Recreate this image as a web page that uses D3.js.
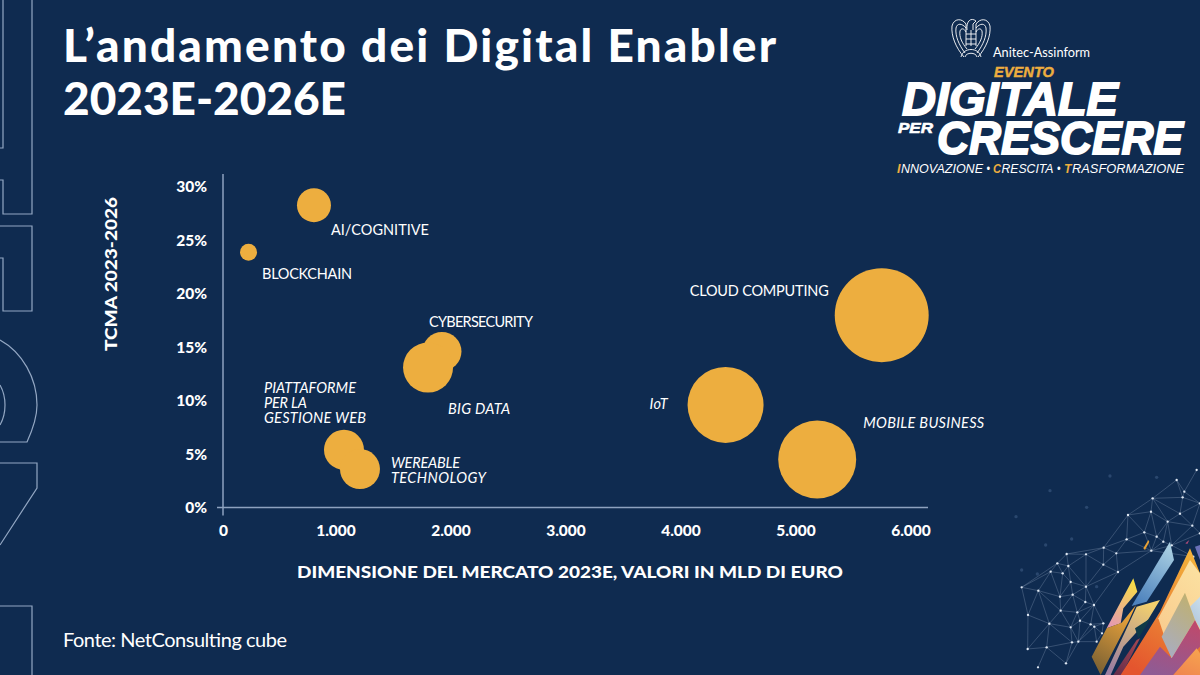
<!DOCTYPE html>
<html>
<head>
<meta charset="utf-8">
<script src="https://cdn.jsdelivr.net/npm/d3@7"></script>
<style>
  html, body { margin: 0; padding: 0; background: #0f2b50; }
  svg { display: block; }
  text { fill: #fff; font-family: Lato, sans-serif; }
</style>
</head>
<body>
<script>
const WIDTH = 1200;
const HEIGHT = 675;
const ORANGE = '#edae3f';
const AXIS_COLOR = '#8ea2bf';

// chart data
const names = ['AI/COGNITIVE', 'BLOCKCHAIN', 'CLOUD COMPUTING', 'CYBERSECURITY', 'BIG DATA', 'IoT', 'MOBILE BUSINESS', 'PIATTAFORME PER LA GESTIONE WEB', 'WEREABLE TECHNOLOGY'];
const marketSize = [791, 222, 5728, 1904, 1783, 4370, 5167, 1052, 1191];
const growth = [28.3, 23.9, 18.0, 14.6, 13.1, 9.6, 4.5, 5.4, 3.6];
const bubbleSize = [749, 187, 5720, 986, 1621, 3745, 3944, 1037, 1037];
const xTicks = [0, 1000, 2000, 3000, 4000, 5000, 6000];
const yTicks = [0, 5, 10, 15, 20, 25, 30];

// label placement relative to the bubble, one entry per line
const labelLayout = [
  { dx: 17, dy: 30, italic: false, lines: [['AI/COGNITIVE', 98]] },
  { dx: 13.5, dy: 27, italic: false, lines: [['BLOCKCHAIN', 90]] },
  { dx: -192, dy: -19, italic: false, lines: [['CLOUD COMPUTING', 139]] },
  { dx: -13, dy: -25, italic: false, lines: [['CYBERSECURITY', 104]] },
  { dx: 20, dy: 46, italic: true, lines: [['BIG DATA', 62]] },
  { dx: -76, dy: 4, italic: true, lines: [['IoT', 18]] },
  { dx: 46, dy: -31, italic: true, lines: [['MOBILE BUSINESS', 121]] },
  { dx: -80, dy: -57, italic: true, lines: [['PIATTAFORME', 92], ['PER LA', 43], ['GESTIONE WEB', 102]] },
  { dx: 31, dy: -1, italic: true, lines: [['WEREABLE', 69], ['TECHNOLOGY', 95]] },
];

const x = d3.scaleLinear([0, 6000], [223, 913]);
const y = d3.scaleLinear([0, 30], [507.5, 187]);
const r = d3.scaleSqrt([0, 6000], [0, 48.1]);
const locale = d3.formatLocale({ decimal: ',', thousands: '.', grouping: [3], currency: ['€', ''] });

const svg = d3.select('body').append('svg')
  .attr('width', WIDTH)
  .attr('height', HEIGHT)
  .attr('viewBox', [0, 0, WIDTH, HEIGHT]);

svg.append('rect').attr('width', WIDTH).attr('height', HEIGHT).attr('fill', '#0f2b50');

const defs = svg.append('defs');

drawBackdrop();
drawTitles();
drawAxes();
drawBubbles();
drawLogo();

// text with a forced width, the original face is not installed
function label(parent, str, px, py, size, width, opts = {}) {
  const t = parent.append('text')
    .attr('x', px)
    .attr('y', py)
    .attr('font-size', size)
    .attr('font-weight', opts.weight || 400)
    .attr('font-style', opts.italic ? 'italic' : 'normal')
    .text(str);
  if (opts.family) t.style('font-family', opts.family);
  if (opts.fill) t.style('fill', opts.fill);
  if (width) t.attr('textLength', width).attr('lengthAdjust', opts.adjust || 'spacingAndGlyphs');
  return t;
}

function drawTitles() {
  label(svg, 'L’andamento dei Digital Enabler', 63, 62, 46, 713, { weight: 900, adjust: 'spacing' });
  label(svg, '2023E-2026E', 63, 115, 46, 283, { weight: 900, adjust: 'spacing' });
  label(svg, 'DIMENSIONE DEL MERCATO 2023E, VALORI IN MLD DI EURO', 297, 578, 16, 546, { weight: 900 });
  label(svg, 'TCMA 2023-2026', 0, 0, 16, 154, { weight: 900 })
    .attr('transform', 'translate(117,351) rotate(-90)');
  label(svg, 'Fonte: NetConsulting cube', 63, 647, 20, 224, { adjust: 'spacing' });
}

function drawAxes() {
  const xAxis = d3.axisBottom(x)
    .tickValues(xTicks)
    .tickSize(0)
    .tickPadding(0)
    .tickFormat(locale.format(',d'));
  const yAxis = d3.axisLeft(y)
    .tickValues(yTicks)
    .tickSize(0)
    .tickPadding(16)
    .tickFormat(d => d + '%');

  const gx = svg.append('g').attr('transform', `translate(0,${y(0) + 28.5})`).call(xAxis);
  const gy = svg.append('g').attr('transform', `translate(${x(0)},0)`).call(yAxis);
  gx.select('.domain').remove();
  gy.select('.domain').remove();
  // the printed labels sit a little left of their tick, except the zero
  gx.selectAll('text')
    .attr('dy', 0)
    .attr('dx', d => d === 0 ? 0 : -2.5)
    .style('font-size', '15.5px').style('font-weight', 900).style('font-family', 'Lato, sans-serif');
  gy.selectAll('text').style('font-size', '15.5px').style('font-weight', 900).style('font-family', 'Lato, sans-serif');

  svg.append('line')
    .attr('x1', x(0) - 6).attr('x2', x(6000) + 15)
    .attr('y1', y(0)).attr('y2', y(0))
    .attr('stroke', AXIS_COLOR).attr('stroke-width', 1.5);
  svg.append('line')
    .attr('x1', x(0)).attr('x2', x(0))
    .attr('y1', y(30) - 13).attr('y2', y(0) + 8)
    .attr('stroke', AXIS_COLOR).attr('stroke-width', 1.5);
}

function drawBubbles() {
  const data = names.map((name, i) => ({
    name,
    market: marketSize[i],
    growth: growth[i],
    size: bubbleSize[i],
    layout: labelLayout[i],
  }));

  svg.append('g').selectAll('circle')
    .data(data)
    .join('circle')
    .attr('cx', d => x(d.market))
    .attr('cy', d => y(d.growth))
    .attr('r', d => r(d.size))
    .attr('fill', ORANGE);

  const g = svg.append('g');
  data.forEach(d => {
    d.layout.lines.forEach(([line, width], i) => {
      label(g, line, x(d.market) + d.layout.dx, y(d.growth) + d.layout.dy + i * 15, 14.5, width, { italic: d.layout.italic, adjust: 'spacing' });
    });
  });
}

function drawBackdrop() {
  // outlined giant letters cut by the left edge
  const outlines = [
    'M3,-2V148H0',
    'M32,-2V214H3V180H0',
    'M0,226H32V311H3V258H0',
    'M0,340C22,352 37,378 37,405C37,418 32,431 27,442H0',
    'M0,385C4,392 5,398 5,405C5,412 4,418 0,425',
    'M0,463H37V488L0,545',
    'M0,606H32V677',
  ];
  svg.append('g').selectAll('path')
    .data(outlines)
    .join('path')
    .attr('d', d => d)
    .attr('fill', 'none')
    .attr('stroke', '#93a7c3')
    .attr('stroke-width', 1.2);

  // plexus network, corner crop coordinates at 3x
  const nodes = [[65, 352], [115, 362], [152, 305], [172, 280], [200, 252], [205, 288], [188, 310], [212, 336], [258, 350], [218, 374], [180, 380], [256, 396], [282, 405], [84, 435], [182, 422], [232, 427], [148, 461], [212, 472], [240, 452], [272, 463], [283, 470], [310, 460], [306, 490], [216, 517], [235, 515], [290, 515], [83, 537], [140, 532], [198, 580], [114, 592], [258, 253], [311, 233], [349, 250], [310, 284], [354, 306], [380, 208], [384, 135], [433, 187], [458, 85], [453, 125], [530, 30], [553, 65], [548, 82], [540, 131], [577, 167], [503, 155], [454, 242], [515, 226], [470, 200], [490, 215], [580, 260], [600, 190], [590, 0], [600, 100]];
  const specks = [[48, 140], [150, 62], [260, 112], [330, 18], [470, 22], [215, 207], [137, 225], [65, 300], [112, 312], [290, 350]];
  const net = svg.append('g').attr('transform', 'translate(1000,470) scale(0.3333)');
  const delaunay = d3.Delaunay.from(nodes);
  const { halfedges, triangles } = delaunay;
  const links = [];
  for (let i = 0; i < halfedges.length; i++) {
    if (i < halfedges[i]) {
      const a = nodes[triangles[i]];
      const b = nodes[triangles[i % 3 === 2 ? i - 2 : i + 1]];
      if (Math.hypot(a[0] - b[0], a[1] - b[1]) < 135) links.push([a, b]);
    }
  }
  net.selectAll('line')
    .data(links)
    .join('line')
    .attr('x1', d => d[0][0]).attr('y1', d => d[0][1])
    .attr('x2', d => d[1][0]).attr('y2', d => d[1][1])
    .attr('stroke', '#b4c4da')
    .attr('stroke-opacity', 0.42)
    .attr('stroke-width', 1.8);
  net.selectAll('circle.node')
    .data(nodes)
    .join('circle')
    .attr('class', 'node')
    .attr('cx', d => d[0]).attr('cy', d => d[1])
    .attr('r', 3.5)
    .attr('fill', '#dfe8f3');
  net.selectAll('circle.speck')
    .data(specks)
    .join('circle')
    .attr('class', 'speck')
    .attr('cx', d => d[0]).attr('cy', d => d[1])
    .attr('r', 5)
    .attr('fill', '#3c5a82')
    .attr('fill-opacity', 0.6);

  // coloured shards, corner crop coordinates at 3x
  const shards = [
    { pts: '160,115 172,155 130,205 122,250 80,265 120,190', from: '#f7dc45', to: '#e59ab0' },
    { pts: '35,350 80,265 125,248 168,195 145,245 62,405', from: '#f2a83c', to: '#7d6233' },
    { pts: '270,5 282,60 200,185 155,198', from: '#a9cfe2', to: '#4d82bd' },
    { pts: '170,200 240,180 205,238 130,320 92,405 75,405', from: '#f3d06d', to: '#9c7fa0' },
    { pts: '165,265 212,235 175,295', from: '#0f3a48', to: '#0f3a48' },
    { pts: '100,405 170,300 180,295 125,405', from: '#a04550', to: '#6a2f4c' },
    { pts: '330,25 360,100 360,405 122,405 240,215', from: '#f2b03a', to: '#e4552e' },
    { pts: '330,60 360,100 360,280 275,355 235,235', from: '#fbe0a0', to: '#f9c98c' },
    { pts: '360,170 360,265 345,240 330,200', from: '#c7dcea', to: '#b0c4dc' },
    { pts: '315,158 345,240 275,355 245,290', from: '#bfb072', to: '#a9adc0' },
    { pts: '345,240 360,270 360,320 280,405 180,405 240,320 275,355', from: '#bd4a6d', to: '#8f5b94' },
    { pts: '350,325 360,340 360,405 280,405', from: '#f6a24f', to: '#f0874f' },
    { pts: '345,20 360,15 360,60', from: '#6a70b8', to: '#6a70b8' },
    { pts: '205,0 208,5 195,30 190,25', from: '#e8a135', to: '#e8a135' },
    { pts: '316,10 328,0 322,12', from: '#b04a78', to: '#b04a78' },
  ];
  const shardG = svg.append('g').attr('transform', 'translate(1080,540) scale(0.3333)');
  shards.forEach((s, i) => {
    const grad = defs.append('linearGradient')
      .attr('id', `shard${i}`)
      .attr('x1', 0.7).attr('y1', 0).attr('x2', 0.3).attr('y2', 1);
    grad.append('stop').attr('offset', 0).attr('stop-color', s.from);
    grad.append('stop').attr('offset', 1).attr('stop-color', s.to);
    shardG.append('polygon').attr('points', s.pts).attr('fill', `url(#shard${i})`);
  });
}

function drawLogo() {
  const logo = svg.append('g');
  const mark = logo.append('g')
    .attr('fill', 'none')
    .attr('stroke', '#fff')
    .attr('stroke-width', 0.9);
  // eagle wings, mirrored around the body
  [1, -1].forEach(side => {
    const wing = mark.append('g').attr('transform', `translate(971,0) scale(${side},1)`);
    wing.append('path').attr('d', 'M5,24C9,18 17,18 19,26C20,36 15,48 7,57');
    wing.append('path').attr('d', 'M5,28C9,23 14,23 15,28C16,36 12,45 6,53');
    wing.append('path').attr('d', 'M5,32C7,28 10,28 11,31C12,37 9,43 4,49');
    wing.append('line').attr('x1', 5).attr('x2', 5).attr('y1', 24).attr('y2', 46);
  });
  mark.append('path').attr('d', 'M967,30C966,21 971,17 976,21L973,24V30');
  mark.append('path').attr('d', 'M961,57C963,47 979,47 981,57M965,57C966,52 976,52 977,57');
  mark.append('path').attr('d', 'M966,34H976M966,39H976M966,44H976M971,30V46');

  label(logo, 'Anitec-Assinform', 993, 57, 13, 97, {});
  label(logo, 'EVENTO', 994, 77, 14, 60, { weight: 900, italic: true, fill: ORANGE, family: 'Liberation Sans, sans-serif' })
    .style('stroke', ORANGE).style('stroke-width', 0.4);

  const heavy = (str, px, py, size, width) => label(logo, str, px, py, size, width, { weight: 700, italic: true, family: 'Liberation Sans, sans-serif' })
    .style('stroke', '#fff').style('stroke-width', size / 26);
  heavy('DIGITALE', 902, 115, 46, 216);
  heavy('PER', 898, 133, 15, 35);
  heavy('CRESCERE', 937, 154, 47, 246);

  // tagline pieces set one by one so the initials can be coloured
  const tagline = [
    ['I', 897, 3.5, ORANGE], ['NNOVAZIONE', 901, 82, '#fff'], ['•', 986.5, 3.5, '#fff'],
    ['C', 993, 8, ORANGE], ['RESCITA', 1001.5, 52, '#fff'], ['•', 1057, 3.5, '#fff'],
    ['T', 1064, 7.5, ORANGE], ['RASFORMAZIONE', 1072, 112, '#fff'],
  ];
  tagline.forEach(([str, px, width, fill]) => {
    label(logo, str, px, 173, 12, width, { italic: true, weight: fill === ORANGE ? 700 : 400, fill, family: 'Liberation Sans, sans-serif' });
  });
}
</script>
</body>
</html>
